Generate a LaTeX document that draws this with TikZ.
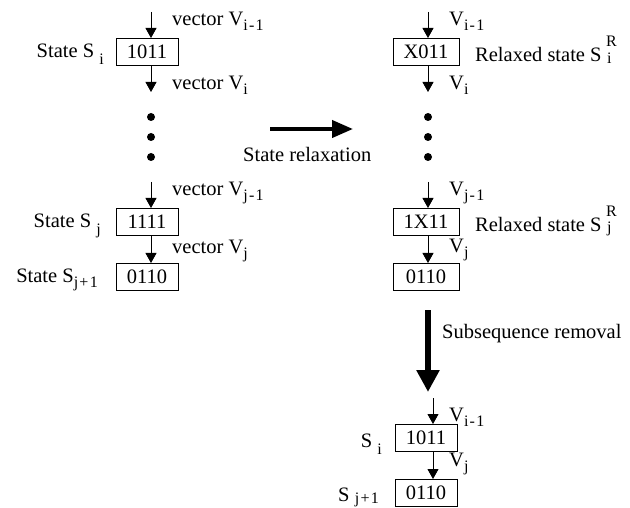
\documentclass[tikz,border=0pt]{standalone}
\usepackage{fontspec}
\setmainfont{Liberation Serif}
\newfontfamily\subf{Liberation Serif}[LetterSpace=8]
\usetikzlibrary{arrows.meta}
\newcommand{\lsub}[1]{\raisebox{-5pt}{\fontsize{16}{16}\subf #1}}
\newcommand{\dsub}[1]{\raisebox{-7pt}{\fontsize{16}{16}\subf #1}}
\begin{document}
\begin{tikzpicture}[x=1pt,y=-1pt,font=\fontsize{20.5}{23}\selectfont,
  statebox/.style={draw,line width=0.9pt,minimum width=62pt,minimum height=27pt,inner sep=0pt,anchor=north},
  small/.style={line width=0.9pt,-{Triangle[width=11pt,length=10pt]}},
  lab/.style={inner sep=0pt,anchor=base west},
  labr/.style={inner sep=0pt,anchor=base east},
  scr/.style={inner sep=0pt,anchor=base west,font=\fontsize{16}{16}\subf},
  dot/.style={circle,fill=black,minimum size=8pt,inner sep=0pt}]
\useasboundingbox (0,0) rectangle (630,508);
% left column
\coordinate (lt1) at (151,12);
\node[statebox] (L1) at (147,38) {1011};
\node[statebox] (L2) at (147,208) {1111};
\node[statebox] (L3) at (147,263) {0110};
\coordinate (lt2) at (151,182);
\draw[small] (lt1) -- (lt1|-L1.north);
\coordinate (la) at (151,92);
\draw[small] (la|-L1.south) -- (la);
\node[dot] (ld1) at (151,117) {};
\node[dot] (ld2) at (151,137) {};
\node[dot] (ld3) at (151,157) {};
\draw[small] (lt2) -- (lt2|-L2.north);
\draw[small] (lt2|-L2.south) -- (lt2|-L3.north);
\node[labr] (sl1) at (104,58) {State S \dsub{i}};
\node[labr] (sl2) at (101,228) {State S \dsub{j}};
\node[labr] (sl3) at (98,283) {State S\lsub{j+1}};
\node[lab] (vl1) at (172,26) {vector V\lsub{i-1}};
\node[lab] (vl2) at (172,90) {vector V\lsub{i}};
\node[lab] (vl3) at (172,196) {vector V\lsub{j-1}};
\node[lab] (vl4) at (172,254) {vector V\lsub{j}};
% middle arrow
\coordinate (ha) at (270,129);
\coordinate (hb) at (353,129);
\draw[line width=4pt,-{Triangle[width=17pt,length=21pt]}] (ha) -- (hb);
\node[lab] (relax) at (243,162) {State relaxation};
% right column
\coordinate (rt1) at (428,12);
\node[statebox,minimum width=66pt] (R1) at (426,38) {X011};
\node[statebox,minimum width=66pt] (R2) at (426,208) {1X11};
\node[statebox,minimum width=66pt] (R3) at (426,263) {0110};
\coordinate (rt2) at (428,182);
\coordinate (ra) at (428,92);
\draw[small] (rt1) -- (rt1|-R1.north);
\draw[small] (ra|-R1.south) -- (ra);
\node[dot] (rd1) at (428,117) {};
\node[dot] (rd2) at (428,137) {};
\node[dot] (rd3) at (428,157) {};
\draw[small] (rt2) -- (rt2|-R2.north);
\draw[small] (rt2|-R2.south) -- (rt2|-R3.north);
\node[lab] (vr1) at (449,26) {V\lsub{i-1}};
\node[lab] (vr2) at (449,90) {V\lsub{i}};
\node[lab] (vr3) at (449,196) {V\lsub{j-1}};
\node[lab] (vr4) at (449,253) {V\lsub{j}};
\node[lab] (rs1) at (475,62) {Relaxed state S};
\node[scr] (rs1R) at (606,47) {R};
\node[scr] (rs1i) at (607,64) {i};
\node[lab] (rs2) at (475,232) {Relaxed state S};
\node[scr] (rs2R) at (606,217) {R};
\node[scr] (rs2j) at (607,233) {j};
% vertical big arrow
\coordinate (va) at (428,310);
\coordinate (vb) at (428,392);
\draw[line width=6pt,-{Triangle[width=22pt,length=22pt]}] (va) -- (vb);
\node[lab] (sub) at (442,338) {Subsequence removal};
% bottom
\coordinate (bt) at (433,398);
\node[statebox] (B1) at (426,424) {1011};
\node[statebox] (B2) at (426,479) {0110};
\draw[small] (bt) -- (bt|-B1.north);
\draw[small] (bt|-B1.south) -- (bt|-B2.north);
\node[lab] (vb1) at (449,421) {V\lsub{i-1}};
\node[lab] (vb2) at (449,466) {V\lsub{j}};
\node[labr] (sb1) at (382,447) {S \dsub{i}};
\node[labr] (sb2) at (379,501) {S \raisebox{-2pt}{\fontsize{16}{16}\subf j+1}};
\end{tikzpicture}
\end{document}
